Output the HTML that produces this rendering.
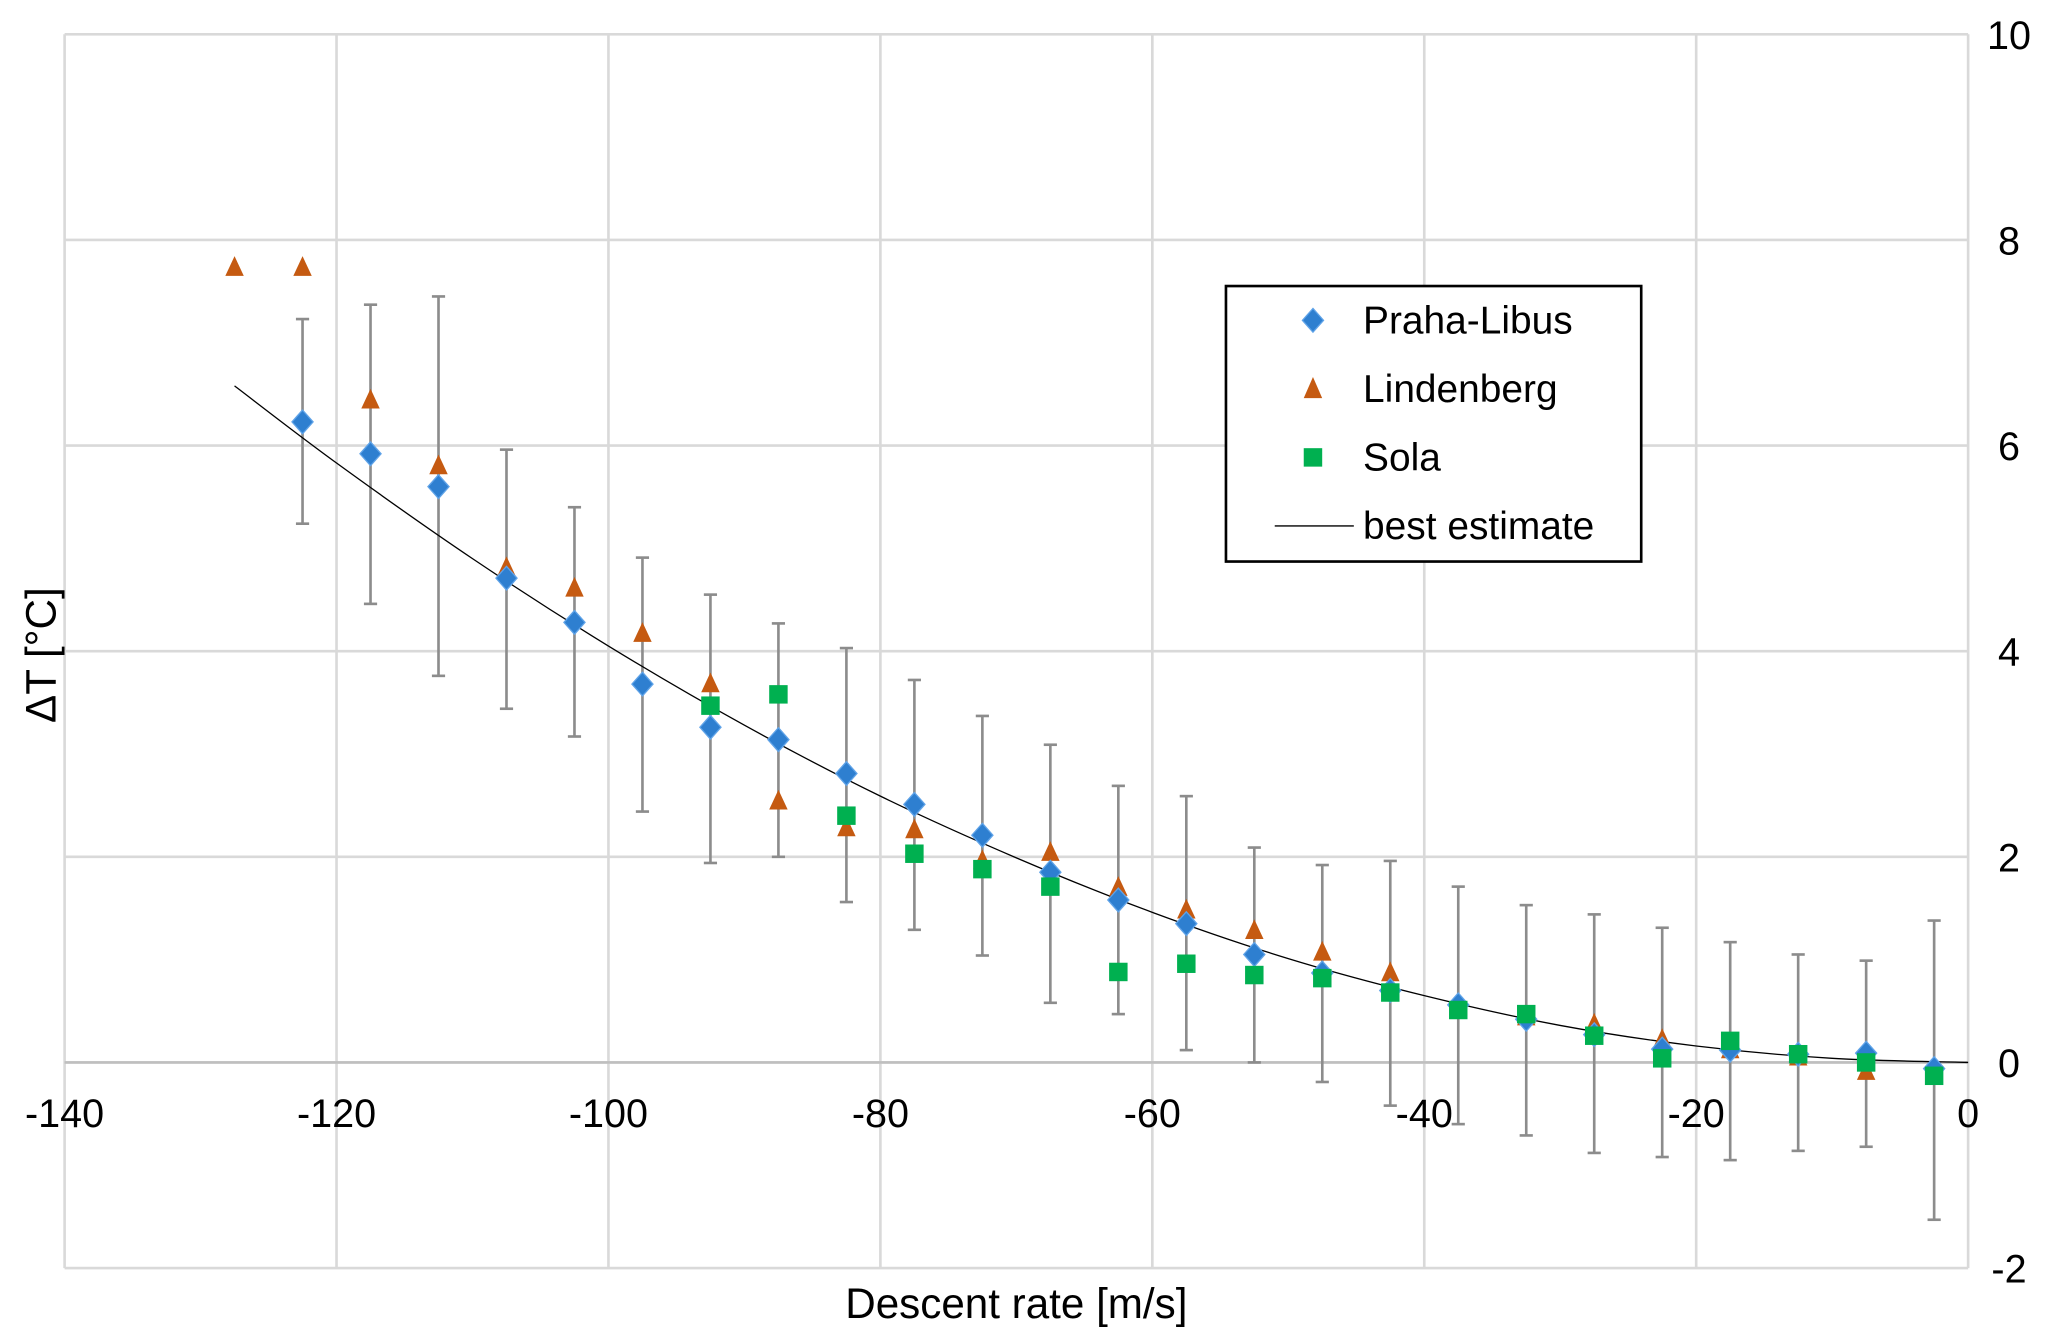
<!DOCTYPE html>
<html><head><meta charset="utf-8"><style>
html,body{margin:0;padding:0;background:#fff;}
svg{display:block;font-family:"Liberation Sans",Arial,sans-serif;}
</style></head><body>
<svg id="chart" width="2067" height="1344" viewBox="0 0 1568 1019.6" preserveAspectRatio="none" xmlns="http://www.w3.org/2000/svg">
<g id="grid"></g>
<g id="errs"></g>
<path id="curve" fill="none" stroke="#000" stroke-width="1"/>
<g id="marks"></g>
<g id="ticks" font-size="30" fill="#000"></g>
<text x="771" y="1000" font-size="32" text-anchor="middle">Descent rate [m/s]</text>
<text transform="translate(42,497) rotate(-90)" font-size="32" text-anchor="middle">ΔT [°C]</text>
<g>
<rect x="930" y="217" width="315" height="209" fill="#fff" stroke="#000" stroke-width="2"/>
<g><path d="M996 234 L1004 243 L996 252 L988 243 Z" fill="#2e7fd0" stroke="#5fa3e8" stroke-width="1"/><text x="1034" y="253" font-size="29.5">Praha-Libus</text></g>
<g><path d="M996 286 L1003 302 L989 302 Z" fill="#c55a11"/><text x="1034" y="305" font-size="29.5">Lindenberg</text></g>
<g><rect x="989" y="340" width="14" height="14" fill="#00b050"/><text x="1034" y="357" font-size="29.5">Sola</text></g>
<g><line x1="967" y1="399" x2="1027" y2="399" stroke="#000" stroke-width="1"/><text x="1034" y="409" font-size="29.5">best estimate</text></g>
</g>
</svg>
<script>
const xTicks=[-140,-120,-100,-80,-60,-40,-20,0];
const yTicks=[-2,0,2,4,6,8,10];
const prahaX=[-122.5,-117.5,-112.5,-107.5,-102.5,-97.5,-92.5,-87.5,-82.5,-77.5,-72.5,-67.5,-62.5,-57.5,-52.5,-47.5,-42.5,-37.5,-32.5,-27.5,-22.5,-17.5,-12.5,-7.5,-2.5];
const prahaY=[6.23,5.92,5.60,4.71,4.28,3.68,3.26,3.14,2.81,2.51,2.21,1.85,1.58,1.35,1.05,0.87,0.70,0.56,0.42,0.27,0.13,0.12,0.08,0.09,-0.06];
const errHi=[7.23,7.37,7.45,5.96,5.40,4.91,4.55,4.27,4.03,3.72,3.37,3.09,2.69,2.59,2.09,1.92,1.96,1.71,1.53,1.44,1.31,1.17,1.05,0.99,1.38];
const errLo=[5.24,4.46,3.76,3.44,3.17,2.44,1.94,2.00,1.56,1.29,1.04,0.58,0.47,0.12,0.00,-0.19,-0.42,-0.60,-0.71,-0.88,-0.92,-0.95,-0.86,-0.82,-1.53];
const lindX=[-127.5,-122.5,-117.5,-112.5,-107.5,-102.5,-97.5,-92.5,-87.5,-82.5,-77.5,-72.5,-67.5,-62.5,-57.5,-52.5,-47.5,-42.5,-37.5,-32.5,-27.5,-22.5,-17.5,-12.5,-7.5];
const lindY=[7.74,7.74,6.45,5.81,4.82,4.62,4.18,3.69,2.55,2.29,2.27,1.97,2.05,1.71,1.49,1.29,1.08,0.88,0.55,0.45,0.38,0.23,0.13,0.06,-0.08];
const solaX=[-92.5,-87.5,-82.5,-77.5,-72.5,-67.5,-62.5,-57.5,-52.5,-47.5,-42.5,-37.5,-32.5,-27.5,-22.5,-17.5,-12.5,-7.5,-2.5];
const solaY=[3.47,3.58,2.40,2.03,1.88,1.71,0.88,0.96,0.85,0.82,0.68,0.51,0.47,0.26,0.04,0.21,0.08,0.00,-0.13];
const curveX=[-127.5,-120,-110,-100,-90,-80,-70,-60,-50,-40,-30,-20,-10,0];
const curveY=[6.58,5.83,4.90,4.05,3.28,2.59,1.99,1.46,1.01,0.65,0.36,0.16,0.04,0];

const NS="http://www.w3.org/2000/svg";
const X0=49,X1=1493,Y0=962,Y1=26;
const sx=v=>X0+(v+140)/140*(X1-X0);
const sy=v=>Y0-(v+2)/12*(Y0-Y1);
function mk(tag,attrs,parent){const e=document.createElementNS(NS,tag);for(const k in attrs)e.setAttribute(k,attrs[k]);parent.appendChild(e);return e;}
const grid=document.getElementById('grid'),ticks=document.getElementById('ticks');
xTicks.forEach(t=>{
  const l=mk('line',{x1:sx(t),x2:sx(t),y1:Y1,y2:Y0,stroke:'#d9d9d9','stroke-width':2},grid);
  
  
  const tx=mk('text',{x:sx(t),y:sy(0)+49,'text-anchor':'middle'},ticks);
  tx.textContent=t;
  
  
});
yTicks.forEach(t=>{
  const l=mk('line',{x1:X0,x2:X1,y1:sy(t),y2:sy(t),stroke:'#d9d9d9','stroke-width':2},grid);
  
  
  const tx=mk('text',{x:1524,y:sy(t)+11,'text-anchor':'middle'},ticks);
  tx.textContent=t;
  
  
});
const zl=mk('line',{x1:X0,x2:X1,y1:sy(0),y2:sy(0),stroke:'#bfbfbf','stroke-width':2},grid);


const errs=document.getElementById('errs');
prahaX.forEach((x,i)=>{
  const g=mk('g',{stroke:'#8c8c8c','stroke-width':2},errs);
  
  
  const cx=sx(x);
  mk('line',{x1:cx,x2:cx,y1:sy(errHi[i]),y2:sy(errLo[i])},g);
  mk('line',{x1:cx-5,x2:cx+5,y1:sy(errHi[i]),y2:sy(errHi[i])},g);
  mk('line',{x1:cx-5,x2:cx+5,y1:sy(errLo[i]),y2:sy(errLo[i])},g);
});
const P=curveX.map((x,i)=>[sx(x),sy(curveY[i])]);
let d='M'+P[0][0]+' '+P[0][1];
for(let i=0;i<P.length-1;i++){
  const p0=P[Math.max(0,i-1)],p1=P[i],p2=P[i+1],p3=P[Math.min(P.length-1,i+2)];
  const c1=[p1[0]+(p2[0]-p0[0])/6,p1[1]+(p2[1]-p0[1])/6];
  const c2=[p2[0]-(p3[0]-p1[0])/6,p2[1]-(p3[1]-p1[1])/6];
  d+=` C${c1[0]} ${c1[1]} ${c2[0]} ${c2[1]} ${p2[0]} ${p2[1]}`;
}
document.getElementById('curve').setAttribute('d',d);
const marks=document.getElementById('marks');
lindX.forEach((x,i)=>{
  const cx=sx(x),cy=sy(lindY[i]);
  const e=mk('path',{d:`M${cx} ${cy-8} L${cx+7} ${cy+7} L${cx-7} ${cy+7} Z`,fill:'#c55a11'},marks);
  
  
});
prahaX.forEach((x,i)=>{
  const cx=sx(x),cy=sy(prahaY[i]);
  const e=mk('path',{d:`M${cx} ${cy-9} L${cx+8} ${cy} L${cx} ${cy+9} L${cx-8} ${cy} Z`,fill:'#2e7fd0',stroke:'#5fa3e8','stroke-width':1},marks);
  
  
});
solaX.forEach((x,i)=>{
  const cx=sx(x),cy=sy(solaY[i]);
  const e=mk('rect',{x:cx-7,y:cy-7,width:14,height:14,fill:'#00b050'},marks);
  
  
});
</script>
</body></html>
